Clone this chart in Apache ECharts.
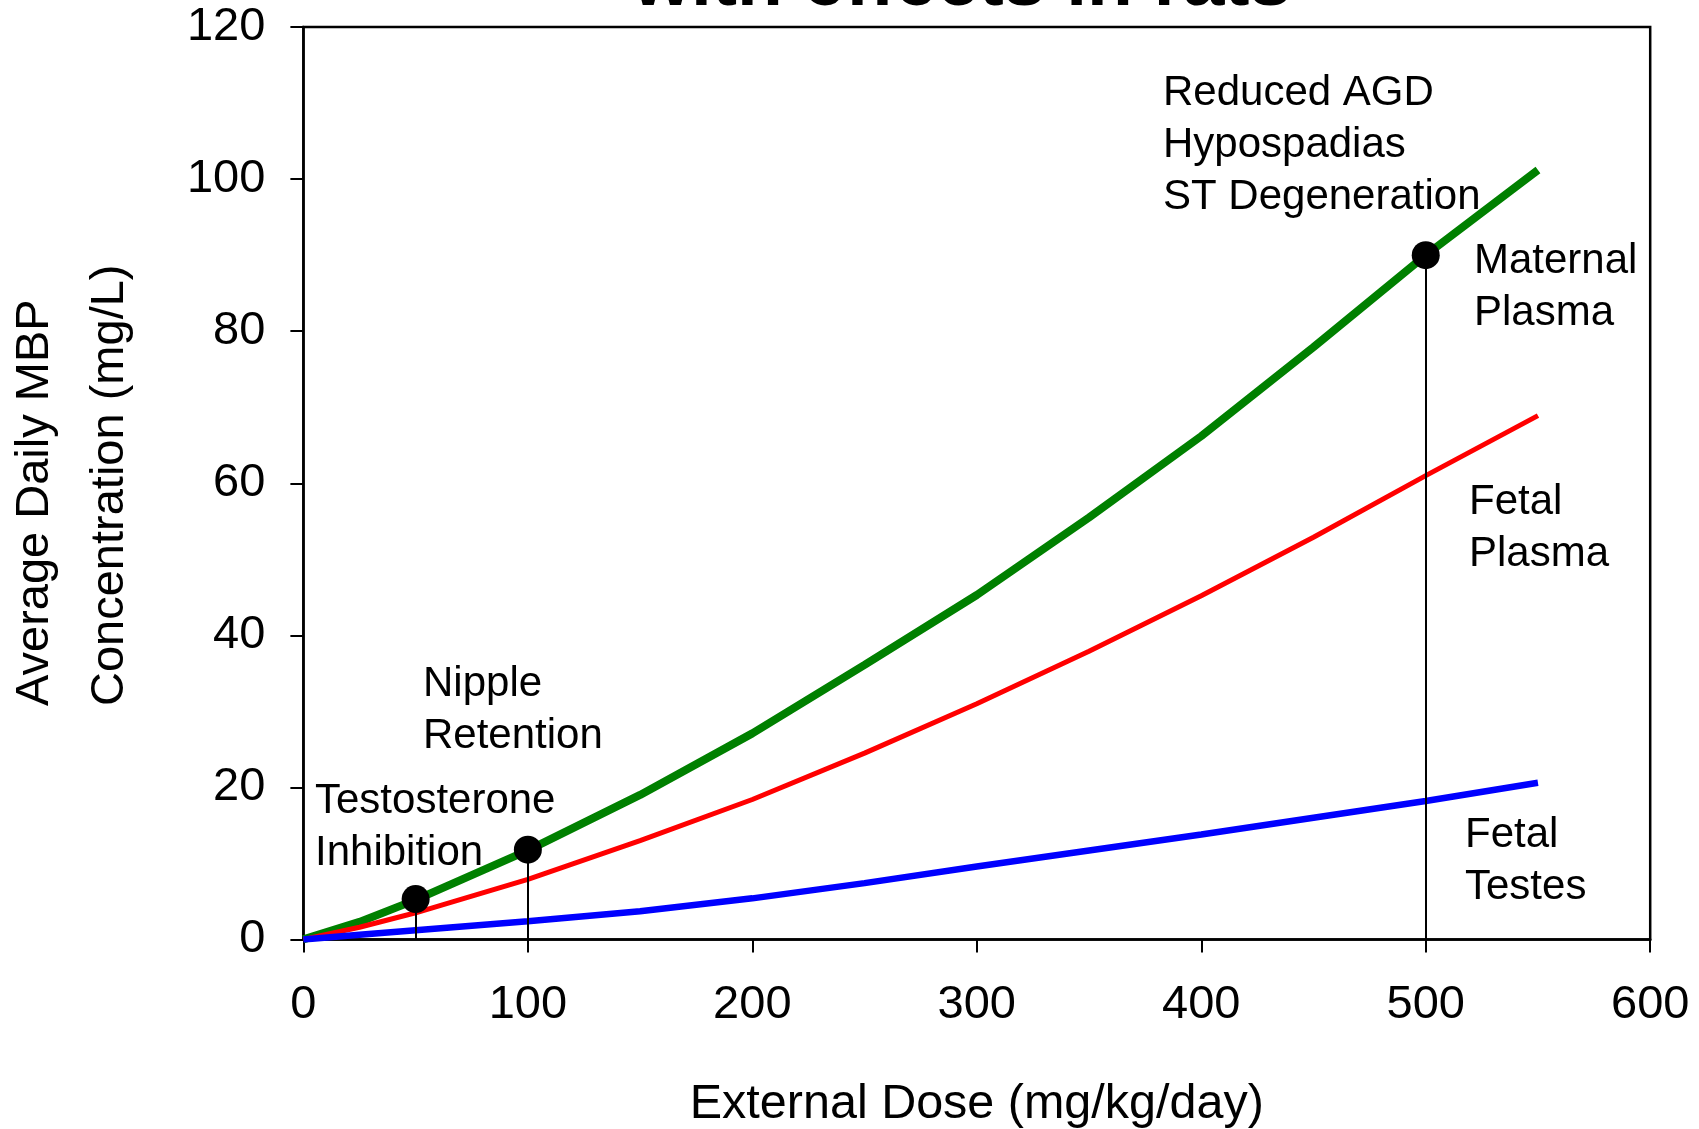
<!DOCTYPE html>
<html>
<head>
<meta charset="utf-8">
<script src="https://cdn.jsdelivr.net/npm/echarts@6/dist/echarts.min.js"></script>
<style>
html,body{margin:0;padding:0;background:#fff;}
#chart{width:1699px;height:1129px;}
</style>
</head>
<body>
<div id="chart"></div>
<script>
// ---- data ----
const doses          = [0, 25, 50, 100, 150, 200, 250, 300, 350, 400, 450, 500, 550];
const maternalPlasma = [0, 2.3, 5.2, 11.7, 19.0, 27.1, 36.1, 45.3, 55.5, 66.2, 77.9, 90.0, 101.2];
const fetalPlasma    = [0, 1.6, 3.5, 7.9, 13.0, 18.4, 24.5, 31.0, 37.9, 45.2, 52.9, 61.0, 68.9];
const fetalTestes    = [0, 0.6, 1.2, 2.4, 3.7, 5.4, 7.4, 9.6, 11.7, 13.8, 16.0, 18.2, 20.6];

const effectDoses = [50, 100, 500];
const effectConc  = [5.3, 11.8, 90.0];

const xTicks = [0, 100, 200, 300, 400, 500, 600];
const yTicks = [0, 20, 40, 60, 80, 100, 120];

const FONT = '"Liberation Sans", Arial, Helvetica, sans-serif';

function pairs(xs, ys) { return xs.map((x, i) => [x, ys[i]]); }

const chart = echarts.init(document.getElementById('chart'), null, {renderer: 'canvas'});

function annot(x, y, text, size) {
  size = size || 42;
  return {
    type: 'text', x: x, y: y, z: 100,
    style: {
      text: text, fill: '#000',
      font: size + 'px ' + FONT,
      fontSize: size, fontFamily: FONT,
      lineHeight: 52,
      align: 'left', verticalAlign: 'top',
      textAlign: 'left', textVerticalAlign: 'top'
    }
  };
}
function rotTitle(x, y, text) {
  return {
    type: 'text', x: x, y: y, rotation: Math.PI / 2, z: 100,
    style: {
      text: text, fill: '#000',
      font: '47px ' + FONT, fontSize: 47, fontFamily: FONT,
      align: 'left', verticalAlign: 'middle',
      textAlign: 'left', textVerticalAlign: 'middle'
    }
  };
}

const option = {
  backgroundColor: '#fff',
  animation: false,
  grid: {
    left: 303.4, right: 48.8, top: 27.1, bottom: 189.6,
    containLabel: false, outerBoundsMode: 'none',
    show: true, borderColor: '#000', borderWidth: 2.5, backgroundColor: 'transparent'
  },
  xAxis: {
    type: 'value', min: xTicks[0], max: xTicks[xTicks.length - 1], interval: 100,
    name: 'External Dose (mg/kg/day)',
    nameLocation: 'middle', nameGap: 141,
    nameTextStyle: {fontFamily: FONT, fontSize: 48.5, color: '#000', lineHeight: 48},
    axisLine: {show: true, onZero: false, lineStyle: {color: '#000', width: 2.5}},
    axisTick: {show: true, inside: false, length: 13, lineStyle: {color: '#000', width: 2}},
    axisLabel: {fontFamily: FONT, fontSize: 47, color: '#000', margin: 43, lineHeight: 45},
    splitLine: {show: false}
  },
  yAxis: {
    type: 'value', min: yTicks[0], max: yTicks[yTicks.length - 1], interval: 20,
    axisLine: {show: true, onZero: false, lineStyle: {color: '#000', width: 2.5}},
    axisTick: {show: true, inside: false, length: 13, lineStyle: {color: '#000', width: 2}},
    axisLabel: {fontFamily: FONT, fontSize: 47, color: '#000', margin: 38},
    splitLine: {show: false}
  },
  series: [
    {
      name: 'Maternal Plasma', type: 'line', data: pairs(doses, maternalPlasma),
      showSymbol: false, symbol: 'none', smooth: false,
      lineStyle: {color: '#008000', width: 8}, z: 3
    },
    {
      name: 'Fetal Plasma', type: 'line', data: pairs(doses, fetalPlasma),
      showSymbol: false, symbol: 'none', smooth: false,
      lineStyle: {color: '#ff0000', width: 5}, z: 3
    },
    {
      name: 'Fetal Testes', type: 'line', data: pairs(doses, fetalTestes),
      showSymbol: false, symbol: 'none', smooth: false,
      lineStyle: {color: '#0000ff', width: 6.5}, z: 3
    },
    {
      name: 'Effects', type: 'scatter', data: pairs(effectDoses, effectConc),
      symbol: 'circle', symbolSize: 28, itemStyle: {color: '#000', opacity: 1}, z: 6,
      markLine: {
        silent: true, symbol: ['none', 'none'], label: {show: false},
        lineStyle: {color: '#000', width: 2, type: 'solid', opacity: 1},
        data: effectDoses.map((d, i) => [{coord: [d, 0]}, {coord: [d, effectConc[i]]}])
      }
    }
  ],
  graphic: [
    {
      type: 'text', x: 962, y: -16, z: 100,
      style: {
        text: 'with effects in rats', fill: '#000',
        font: 'bold 75px ' + FONT, fontSize: 75, fontWeight: 'bold', fontFamily: FONT,
        align: 'center', verticalAlign: 'middle',
        textAlign: 'center', textVerticalAlign: 'middle'
      }
    },
    rotTitle(34.7, 706, 'Average Daily MBP'),
    rotTitle(110, 706, 'Concentration (mg/L)'),
    annot(1163, 67, 'Reduced AGD\nHypospadias\nST Degeneration'),
    annot(1474, 235, 'Maternal\nPlasma'),
    annot(1469, 476, 'Fetal\nPlasma'),
    annot(1465, 809, 'Fetal\nTestes'),
    annot(423, 658, 'Nipple\nRetention'),
    annot(315, 775, 'Testosterone\nInhibition')
  ]
};
chart.setOption(option);
</script>
</body>
</html>
